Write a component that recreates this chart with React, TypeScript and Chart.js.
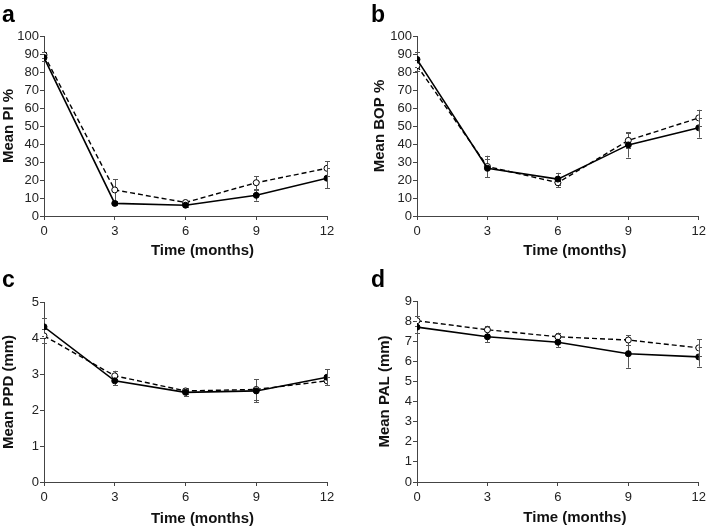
import React, { useEffect, useRef } from "react";
import { Chart, registerables } from "chart.js";

Chart.register(...registerables);

// ---------- data ----------
const months = [0, 3, 6, 9, 12];

const piClosed = [88, 7, 6, 11.5, 21];
const piClosedErr = [2, 1, 0.8, 3, 5.5];
const piOpen = [89.5, 14.5, 7.5, 18.5, 26.5];
const piOpenErr = [1.5, 6, 1, 3.5, 4];

const bopClosed = [87, 26.5, 20.5, 39.5, 49];
const bopClosedErr = [4, 5, 3.5, 7, 5.5];
const bopOpen = [83.5, 27.5, 18.5, 42, 54.5];
const bopOpenErr = [3, 6, 2.5, 4, 4.5];

const ppdClosed = [4.31, 2.81, 2.49, 2.53, 2.91];
const ppdClosedErr = [0.25, 0.12, 0.1, 0.32, 0.22];
const ppdOpen = [4.06, 2.95, 2.53, 2.57, 2.81];
const ppdOpenErr = [0.2, 0.14, 0.08, 0.28, 0.12];

const palClosed = [7.7, 7.22, 6.95, 6.38, 6.22];
const palClosedErr = [0.3, 0.27, 0.26, 0.7, 0.48];
const palOpen = [8.02, 7.57, 7.22, 7.06, 6.67];
const palOpenErr = [0.25, 0.2, 0.21, 0.23, 0.42];

const xTitle = "Time (months)";

type Panel = {
  letter: string;
  yTitle: string;
  yMax: number;
  yStep: number;
  closed: number[];
  closedErr: number[];
  open: number[];
  openErr: number[];
  left: number;
  top: number;
  padLeft: number;
  yWidth: number;
  plotTop: number;
  plotBottom: number;
  padRight: number;
  titleDy: number;
};

const panels: Panel[] = [
  { letter: "a", yTitle: "Mean PI %", yMax: 100, yStep: 10, closed: piClosed, closedErr: piClosedErr, open: piOpen, openErr: piOpenErr, left: 0, top: 0, padLeft: 0, yWidth: 44, plotTop: 36, plotBottom: 216, padRight: 28, titleDy: 35 },
  { letter: "b", yTitle: "Mean BOP %", yMax: 100, yStep: 10, closed: bopClosed, closedErr: bopClosedErr, open: bopOpen, openErr: bopOpenErr, left: 355, top: 0, padLeft: 16, yWidth: 46, plotTop: 36, plotBottom: 216, padRight: 11, titleDy: 35 },
  { letter: "c", yTitle: "Mean PPD (mm)", yMax: 5, yStep: 1, closed: ppdClosed, closedErr: ppdClosedErr, open: ppdOpen, openErr: ppdOpenErr, left: 0, top: 265, padLeft: 0, yWidth: 44, plotTop: 37, plotBottom: 217, padRight: 28, titleDy: 37 },
  { letter: "d", yTitle: "Mean PAL (mm)", yMax: 9, yStep: 1, closed: palClosed, closedErr: palClosedErr, open: palOpen, openErr: palOpenErr, left: 355, top: 265, padLeft: 21, yWidth: 41, plotTop: 36, plotBottom: 217, padRight: 11, titleDy: 35.5 },
];

const FONT = "'Liberation Sans', Arial, sans-serif";

const errorBarPlugin = {
  id: "errorBars",
  beforeDatasetsDraw(chart: any) {
    const ctx = chart.ctx;
    const xs = chart.scales.x;
    const ys = chart.scales.y;
    ctx.save();
    ctx.strokeStyle = "#555";
    ctx.lineWidth = 1;
    chart.data.datasets.forEach((ds: any) => {
      const errs: number[] = ds.errors || [];
      ds.data.forEach((p: any, i: number) => {
        const e = errs[i];
        if (!e) return;
        const px = Math.round(xs.getPixelForValue(p.x)) + 0.5;
        const y1 = ys.getPixelForValue(p.y - e);
        const y2 = ys.getPixelForValue(p.y + e);
        ctx.beginPath();
        ctx.moveTo(px, y1);
        ctx.lineTo(px, y2);
        ctx.moveTo(px - 2.5, Math.round(y1) + 0.5);
        ctx.lineTo(px + 2.5, Math.round(y1) + 0.5);
        ctx.moveTo(px - 2.5, Math.round(y2) + 0.5);
        ctx.lineTo(px + 2.5, Math.round(y2) + 0.5);
        ctx.stroke();
      });
    });
    ctx.restore();
  },
};

const xTitlePlugin = {
  id: "xTitleDraw",
  afterDraw(chart: any) {
    const opts = chart.options.plugins.xTitleDraw;
    if (!opts) return;
    const ctx = chart.ctx;
    const area = chart.chartArea;
    ctx.save();
    ctx.font = `bold 15px ${FONT}`;
    ctx.fillStyle = "#111";
    ctx.textAlign = "center";
    ctx.textBaseline = "middle";
    ctx.fillText(opts.text, (area.left + area.right) / 2 + opts.dx, area.bottom + opts.dy);
    ctx.restore();
  },
};

function PanelChart({ p }: { p: Panel }) {
  const ref = useRef<HTMLCanvasElement | null>(null);
  useEffect(() => {
    if (!ref.current) return;
    const chart = new Chart(ref.current, {
      type: "line",
      data: {
        datasets: [
          {
            label: "closed",
            data: months.map((m, i) => ({ x: m, y: p.closed[i] })),
            errors: p.closedErr,
            borderColor: "#000",
            borderWidth: 1.6,
            pointRadius: 3,
            pointBackgroundColor: "#000",
            pointBorderColor: "#000",
            pointBorderWidth: 1,
            tension: 0,
          } as any,
          {
            label: "open",
            data: months.map((m, i) => ({ x: m, y: p.open[i] })),
            errors: p.openErr,
            borderColor: "#000",
            borderWidth: 1.4,
            borderDash: [5, 3],
            pointRadius: 3,
            pointBackgroundColor: "#fff",
            pointBorderColor: "#000",
            pointBorderWidth: 1,
            tension: 0,
          } as any,
        ],
      },
      options: {
        responsive: false,
        animation: false,
        devicePixelRatio: 1,
        layout: { padding: { left: p.padLeft, right: p.padRight, top: p.plotTop, bottom: 0 } },
        plugins: {
          legend: { display: false },
          tooltip: { enabled: false },
          xTitleDraw: { text: xTitle, dx: 17, dy: p.titleDy },
        } as any,
        scales: {
          x: {
            type: "linear",
            min: 0,
            max: 12,
            afterFit: (s: any) => {
              s.height = 265 - p.plotBottom;
            },
            ticks: {
              stepSize: 3,
              padding: 4,
              autoSkip: false,
              color: "#222",
              font: { family: FONT, size: 13 },
              maxRotation: 0,
            },
            grid: { display: true, drawOnChartArea: false, drawTicks: true, tickLength: 4, color: "#444" },
            border: { display: true, color: "#444", width: 1 },
          },
          y: {
            type: "linear",
            min: 0,
            max: p.yMax,
            afterFit: (s: any) => {
              s.width = p.yWidth;
            },
            ticks: {
              stepSize: p.yStep,
              autoSkip: false,
              padding: 1,
              color: "#222",
              font: { family: FONT, size: 13 },
            },
            grid: { display: true, drawOnChartArea: false, drawTicks: true, tickLength: 4, color: "#444" },
            border: { display: true, color: "#444", width: 1 },
            title: {
              display: true,
              text: p.yTitle,
              color: "#111",
              font: { family: FONT, size: 15, weight: "bold" },
              padding: { top: 0, bottom: 0 },
            },
          },
        },
      },
      plugins: [errorBarPlugin, xTitlePlugin],
    } as any);
    return () => chart.destroy();
  }, [p]);

  return (
    <div style={{ position: "absolute", left: p.left, top: p.top, width: 355, height: 265 }}>
      <canvas ref={ref} width={355} height={265} style={{ display: "block", width: 355, height: 265 }} />
      <div
        style={{
          position: "absolute",
          left: p.letter === "a" || p.letter === "c" ? 2 : 16,
          top: 2.5,
          font: `bold 23px ${FONT}`,
          lineHeight: "23px",
          color: "#000",
        }}
      >
        {p.letter}
      </div>
    </div>
  );
}

export default function App() {
  return (
    <div style={{ position: "absolute", left: 0, top: 0, width: 710, height: 530, background: "#fff" }}>
      {panels.map((p) => (
        <PanelChart key={p.letter} p={p} />
      ))}
    </div>
  );
}
